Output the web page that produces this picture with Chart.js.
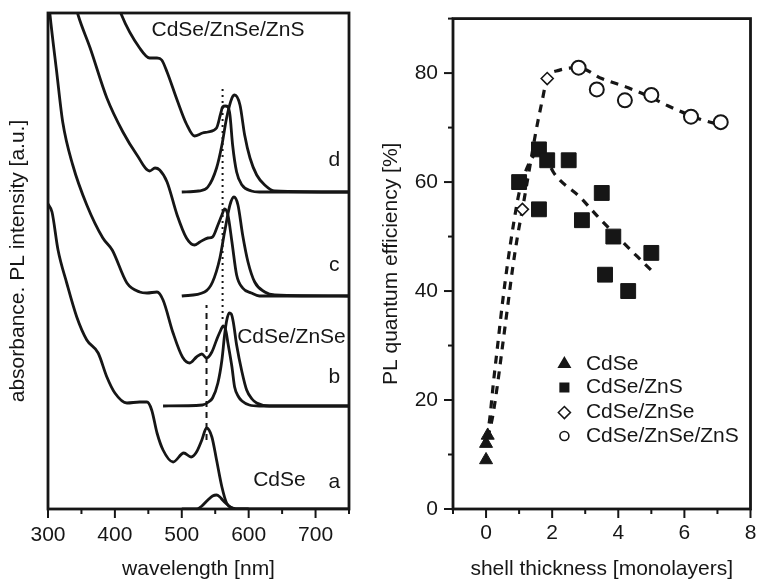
<!DOCTYPE html>
<html>
<head>
<meta charset="utf-8">
<script src="https://cdn.jsdelivr.net/npm/chart.js@4.4.1/dist/chart.umd.min.js"></script>
<style>
  body { margin: 0; background: #fff; }
  #wrap { position: relative; width: 762px; height: 582px; }
  canvas { position: absolute; top: 0; }
</style>
</head>
<body>
<div id="wrap">
  <canvas id="left" width="370" height="582" style="left:0"></canvas>
  <canvas id="right" width="392" height="582" style="left:370px"></canvas>
</div>
<script>
// ---- left panel: absorbance + PL spectra (arbitrary units, stacked) ----
const wlAbsA = [300, 306, 315, 328, 343, 358, 375, 388, 400, 418, 437, 448, 455, 463, 472, 487, 503, 514, 522, 530, 537, 545, 552, 560, 567, 576, 587, 750];
const absA   = [305, 297, 259, 226, 192, 169, 156, 132, 116, 106, 107, 107, 99, 76, 59, 47, 56, 52, 57, 69, 81, 72, 49, 22, 6, 1, 0, 0];
const wlPlA  = [500, 522, 530, 539, 546, 552, 557, 561, 567, 575, 587, 600];
const plA    = [0, 0, 3, 9, 13, 14, 12, 9, 5, 1, 0, 0];

const wlAbsB = [300, 303, 313, 322, 337, 358, 382, 396, 418, 437, 448, 463, 472, 487, 501, 512, 522, 530, 537, 545, 552, 557, 562, 566, 569, 575, 579, 585, 590, 601, 616, 750];
const absB   = [515, 494, 437, 387, 344, 304, 271, 259, 226, 217, 216, 217, 209, 176, 152, 146, 152, 155, 151, 157, 169, 177, 183, 178, 166, 142, 122, 112, 108, 104, 103, 103];
const wlPlB  = [472, 531, 540, 546, 554, 560, 564, 567, 571, 574, 577, 582, 590, 597, 605, 612, 631, 750];
const plB    = [103, 104, 107, 111, 126, 149, 174, 188, 196, 195, 187, 164, 137, 119, 110, 106, 103, 103];

const wlAbsC = [335, 345, 363, 388, 412, 433, 452, 460, 467, 478, 493, 507, 519, 527, 539, 546, 554, 560, 564, 569, 575, 582, 591, 604, 616, 750];
const absC   = [520, 494, 461, 411, 377, 354, 338, 341, 339, 327, 294, 271, 264, 267, 271, 272, 284, 294, 300, 294, 267, 234, 221, 216, 213, 213];
const wlPlC  = [500, 534, 546, 557, 564, 572, 578, 584, 591, 599, 609, 624, 639, 750];
const plC    = [213, 217, 227, 251, 277, 304, 312, 304, 274, 247, 227, 217, 214, 213];

const wlAbsD = [400, 410, 437, 452, 463, 470, 478, 493, 507, 519, 531, 539, 552, 558, 561, 565, 569, 572, 576, 582, 590, 604, 616, 750];
const absD   = [515, 494, 461, 451, 451, 449, 437, 409, 385, 373, 376, 377, 381, 395, 402, 403, 402, 394, 364, 337, 324, 318, 317, 317];
const wlPlD  = [500, 525, 539, 552, 560, 567, 575, 579, 587, 594, 602, 612, 624, 639, 750];
const plD    = [317, 318, 322, 341, 364, 391, 411, 414, 404, 374, 351, 334, 324, 318, 317];

// guide lines: CdSe exciton (dashed) and shifted exciton (dotted)
const guideDashedNm = [537, 537], guideDashedY = [69, 204];
const guideDottedNm = [561, 561], guideDottedY = [190, 421];

// ---- right panel: PL QE vs shell thickness ----
const shellCdSe = [0, 0, 0.05];
const qeCdSe    = [9, 12, 13.5];
const shellZnS  = [1.0, 1.6, 1.6, 1.85, 2.5, 2.9, 3.5, 3.6, 3.85, 4.3, 5.0];
const qeZnS     = [60, 66, 55, 64, 64, 53, 58, 43, 50, 40, 47];
const shellZnSe = [1.1, 1.85];
const qeZnSe    = [55, 79];
const shellZnSeZnS = [2.8, 3.35, 4.2, 5.0, 6.2, 7.1];
const qeZnSeZnS    = [81, 77, 75, 76, 72, 71];

// dashed guide-to-the-eye curves
const fitShellA = [0.05, 0.2, 0.35, 0.5, 0.65, 0.8, 0.95, 1.1, 1.3, 1.5, 1.7, 1.85, 2.2, 2.8, 3.5, 4.3, 5.0, 5.5, 6.5, 7.1];
const fitQeA    = [13, 17, 23, 30, 37, 44, 50, 55, 62, 69, 75, 79, 80.5, 81, 79, 77.3, 75.5, 74, 71.5, 70.5];
const fitShellB = [0.03, 0.12, 0.22, 0.35, 0.5, 0.65, 0.85, 1.0, 1.2, 1.4, 1.6, 1.75, 2.07, 2.85, 3.36, 4.58, 5.05];
const fitQeB    = [13, 17, 23, 30, 38, 45, 53, 58, 62, 64.5, 65.5, 65, 61.5, 57.2, 53.8, 46.3, 43.5];

const FONT = '"Liberation Sans", Arial, sans-serif';
const INK = '#161616';
const FS = 21;

function pts(xs, ys) { return xs.map((x, i) => ({ x: x, y: ys[i] })); }

function spectrum(xs, ys) {
  return { data: pts(xs, ys), borderColor: INK, borderWidth: 2.8, pointRadius: 0,
           cubicInterpolationMode: 'monotone', fill: false };
}

// frame + ticks (major/minor) + free text
const decor = {
  id: 'decor',
  afterDraw(chart, args, opts) {
    const ctx = chart.ctx, a = chart.chartArea;
    ctx.save();
    ctx.strokeStyle = INK;
    ctx.lineWidth = 2.8;
    ctx.strokeRect(a.left, a.top, a.right - a.left, a.bottom - a.top);
    ctx.lineWidth = 2;
    (opts.ticks || []).forEach(t => {
      const s = chart.scales[t.id];
      s.ticks.forEach(tk => {
        const major = Math.abs(tk.value % t.major) < 1e-9;
        const len = major ? 9 : 5;
        const p = s.getPixelForValue(tk.value);
        ctx.beginPath();
        if (s.isHorizontal()) { ctx.moveTo(p, a.bottom); ctx.lineTo(p, a.bottom + len); }
        else { ctx.moveTo(a.left - len, p); ctx.lineTo(a.left, p); }
        ctx.stroke();
      });
    });
    ctx.fillStyle = INK;
    ctx.font = FS + 'px ' + FONT;
    ctx.textBaseline = 'middle';
    (opts.labels || []).forEach(l => {
      ctx.textAlign = l.align || 'center';
      ctx.fillText(l.text, chart.scales.x.getPixelForValue(l.x), chart.scales.y.getPixelForValue(l.y));
    });
    (opts.legend || []).forEach(l => {
      const px = chart.scales.x.getPixelForValue(l.x);
      const py = chart.scales.y.getPixelForValue(l.y);
      ctx.fillStyle = l.fill;
      ctx.strokeStyle = INK;
      ctx.lineWidth = 1.6;
      Chart.helpers.drawPoint(ctx, { pointStyle: l.style, radius: l.r, rotation: 0, borderWidth: 1.6 }, px, py);
      ctx.fillStyle = INK;
      ctx.textAlign = 'left';
      ctx.fillText(l.text, chart.scales.x.getPixelForValue(l.tx), py);
    });
    ctx.restore();
  }
};

const tickFont = { family: FONT, size: FS };
const titleFont = { family: FONT, size: FS };

new Chart(document.getElementById('left'), {
  type: 'line',
  data: {
    datasets: [
      spectrum(wlAbsA, absA), spectrum(wlPlA, plA),
      spectrum(wlAbsB, absB), spectrum(wlPlB, plB),
      spectrum(wlAbsC, absC), spectrum(wlPlC, plC),
      spectrum(wlAbsD, absD), spectrum(wlPlD, plD),
      { data: pts(guideDashedNm, guideDashedY), borderColor: INK, borderWidth: 2, borderDash: [6, 5], pointRadius: 0 },
      { data: pts(guideDottedNm, guideDottedY), borderColor: INK, borderWidth: 2, borderDash: [2, 4], pointRadius: 0 }
    ]
  },
  options: {
    responsive: false, devicePixelRatio: 1, animation: false,
    layout: { padding: { top: 13, right: 21, left: 0, bottom: 0 } },
    plugins: {
      legend: { display: false }, tooltip: { enabled: false },
      decor: {
        ticks: [{ id: 'x', major: 100 }],
        labels: [
          { text: 'CdSe/ZnSe/ZnS', x: 569, y: 479 },
          { text: 'd', x: 728, y: 349 },
          { text: 'c', x: 728, y: 244 },
          { text: 'CdSe/ZnSe', x: 664, y: 172 },
          { text: 'b', x: 728, y: 132 },
          { text: 'CdSe', x: 646, y: 29 },
          { text: 'a', x: 728, y: 27 }
        ]
      }
    },
    scales: {
      x: {
        type: 'linear', min: 300, max: 750,
        afterFit(s) { s.height = 73; },
        grid: { display: false, drawTicks: true, tickLength: 9 },
        border: { display: false },
        ticks: { stepSize: 50, autoSkip: false, maxRotation: 0, padding: 5, color: INK, font: tickFont,
                 callback: v => (v % 100 === 0 ? v : '') },
        title: { display: true, text: 'wavelength [nm]', color: INK, font: titleFont, padding: { top: 0, bottom: 0 } }
      },
      y: {
        min: 0, max: 496,
        afterFit(s) { s.width = 48; },
        grid: { display: false, drawTicks: false },
        border: { display: false },
        ticks: { display: false },
        title: { display: true, text: 'absorbance. PL intensity [a.u.]', color: INK, font: titleFont, padding: { top: 6, bottom: 0 } }
      }
    }
  },
  plugins: [decor]
});

new Chart(document.getElementById('right'), {
  type: 'scatter',
  data: {
    datasets: [
      { data: pts(shellCdSe, qeCdSe), pointStyle: 'triangle', pointRadius: 7.5, backgroundColor: INK, borderColor: INK, borderWidth: 1 },
      { data: pts(shellZnS, qeZnS), pointStyle: 'rect', pointRadius: 10.5, backgroundColor: INK, borderColor: INK, borderWidth: 1 },
      { data: pts(shellZnSe, qeZnSe), pointStyle: 'rectRot', pointRadius: 6, backgroundColor: '#fff', borderColor: INK, borderWidth: 1.6 },
      { data: pts(shellZnSeZnS, qeZnSeZnS), pointStyle: 'circle', pointRadius: 7, backgroundColor: '#fff', borderColor: INK, borderWidth: 2 },
      { data: pts(fitShellA, fitQeA), showLine: true, pointRadius: 0, borderColor: INK, borderWidth: 3.2, borderDash: [8, 7], cubicInterpolationMode: 'monotone' },
      { data: pts(fitShellB, fitQeB), showLine: true, pointRadius: 0, borderColor: INK, borderWidth: 3.2, borderDash: [8, 7], cubicInterpolationMode: 'monotone' }
    ]
  },
  options: {
    responsive: false, devicePixelRatio: 1, animation: false,
    layout: { padding: { top: 13, right: 6, left: 0, bottom: 0 } },
    plugins: {
      legend: { display: false }, tooltip: { enabled: false },
      decor: {
        ticks: [{ id: 'x', major: 2 }, { id: 'y', major: 20 }],
        legend: [
          { style: 'triangle', r: 6.5, fill: INK, text: 'CdSe', x: 2.37, tx: 3.02, y: 26.6 },
          { style: 'rect', r: 6, fill: INK, text: 'CdSe/ZnS', x: 2.37, tx: 3.02, y: 22.3 },
          { style: 'rectRot', r: 6, fill: '#fff', text: 'CdSe/ZnSe', x: 2.37, tx: 3.02, y: 17.7 },
          { style: 'circle', r: 4.5, fill: '#fff', text: 'CdSe/ZnSe/ZnS', x: 2.37, tx: 3.02, y: 13.4 }
        ]
      }
    },
    scales: {
      x: {
        type: 'linear', min: -1, max: 8,
        afterFit(s) { s.height = 73; },
        grid: { display: false, drawTicks: true, tickLength: 9 },
        border: { display: false },
        ticks: { stepSize: 1, autoSkip: false, maxRotation: 0, padding: 3, color: INK, font: tickFont,
                 callback: v => (v >= 0 && v % 2 === 0 ? v : '') },
        title: { display: true, text: 'shell thickness [monolayers]', color: INK, font: titleFont, padding: { top: 0, bottom: 0 } }
      },
      y: {
        min: 0, max: 90,
        afterFit(s) { s.width = 83; },
        grid: { display: false, drawTicks: true, tickLength: 9 },
        border: { display: false },
        ticks: { stepSize: 10, autoSkip: false, padding: 6, color: INK, font: tickFont,
                 callback: v => (v % 20 === 0 && v < 90 ? v : '') },
        title: { display: true, text: 'PL quantum efficiency [%]', color: INK, font: titleFont, padding: { top: 9, bottom: 0 } }
      }
    }
  },
  plugins: [decor]
});
</script>
</body>
</html>
